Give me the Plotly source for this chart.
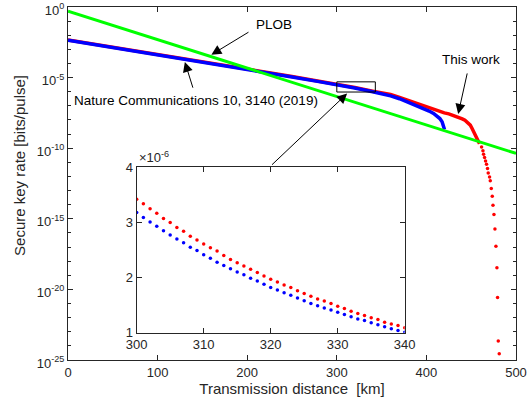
import math
import plotly.graph_objects as go

# ---------------- data ----------------
# PLOB bound (green)
plob_km = [0, 100, 200, 300, 400, 500]
plob_rate = [5.0e-1, 4.9e-3, 4.7e-5, 4.6e-7, 4.4e-9, 4.3e-11]

# Nature Communications 10, 3140 (2019) (blue)
nc_km = [0, 50, 100, 150, 200, 220, 250, 280, 300, 320, 340, 350, 360, 370,
         380, 390, 397, 403, 408, 412, 415, 417.5, 419, 420.2]
nc_rate = [4.4e-3, 1.35e-3, 4.2e-4, 1.29e-4, 4.0e-5, 2.4e-5, 1.12e-5, 5.2e-6,
           3.18e-6, 1.82e-6, 1.0e-6, 7.4e-7, 5.1e-7, 3.2e-7, 1.82e-7, 1.02e-7,
           6.5e-8, 4.3e-8, 2.9e-8, 1.9e-8, 1.26e-8, 7.4e-9, 4.3e-9, 2.1e-9]

# This work (red), dense part
tw_km = [0, 50, 100, 150, 200, 220, 250, 280, 300, 320, 340, 350, 360, 370,
         382, 393, 404, 410, 415, 420, 425, 434, 440, 443, 446, 449, 451, 453,
         455.6, 457.5, 459.3]
tw_rate = [4.7e-3, 1.45e-3, 4.5e-4, 1.38e-4, 4.3e-5, 2.6e-5, 1.2e-5, 5.6e-6,
           3.42e-6, 1.97e-6, 1.09e-6, 8.3e-7, 6.3e-7, 4.0e-7, 2.14e-7, 1.17e-7,
           6.5e-8, 4.8e-8, 3.7e-8, 3.2e-8, 2.7e-8, 1.74e-8, 1.2e-8, 9.5e-9,
           6.8e-9, 4.3e-9, 2.5e-9, 1.32e-9, 5.8e-10, 3.4e-10, 2.1e-10]

# This work (red), sparse tail dots
tail_km = [461.6, 463.1, 463.8, 464.9, 466.0, 467.1, 468.2, 469.0, 470.5,
           471.3, 472.4, 473.5, 474.3, 475.4, 476.5, 477.6, 478.7, 479.4,
           480.2, 481.3]
tail_rate = [1.23e-10, 6.5e-11, 3.8e-11, 2.2e-11, 1.26e-11, 7.4e-12, 3.6e-12,
             1.78e-12, 9.3e-13, 4.9e-13, 1.41e-13, 4.0e-14, 9.3e-15, 2.0e-15,
             1.86e-16, 1.15e-17, 3.4e-19, 2.7e-21, 2.2e-24, 2.8e-25]

# zoom box drawn on the main axes
box_km = [300, 343, 343, 300, 300]
box_rate = [9.5e-7, 9.5e-7, 5.0e-6, 5.0e-6, 9.5e-7]

# inset (values in units of 1e-6)
inset_km = list(range(300, 341))
inset_red = [3.42, 3.34, 3.25, 3.165, 3.07, 3.00, 2.91, 2.84, 2.75, 2.68,
             2.61, 2.54, 2.48, 2.40, 2.33, 2.27, 2.21, 2.15, 2.09, 2.03,
             1.97, 1.92, 1.865, 1.82, 1.76, 1.71, 1.66, 1.61, 1.575, 1.53,
             1.48, 1.44, 1.39, 1.35, 1.31, 1.27, 1.24, 1.19, 1.16, 1.13, 1.09]
inset_blue = [3.18, 3.09, 3.01, 2.93, 2.85, 2.77, 2.70, 2.63, 2.55, 2.49,
              2.415, 2.35, 2.28, 2.22, 2.16, 2.10, 2.05, 1.99, 1.94, 1.88,
              1.82, 1.774, 1.726, 1.678, 1.63, 1.58, 1.53, 1.49, 1.45, 1.41,
              1.37, 1.33, 1.29, 1.25, 1.22, 1.18, 1.145, 1.11, 1.07, 1.04, 1.01]

x_ticks = [0, 100, 200, 300, 400, 500]
y_tick_exp = [0, -5, -10, -15, -20, -25]
inset_x_ticks = [300, 310, 320, 330, 340]
inset_y_ticks = [1, 2, 3, 4]

# ---------------- figure ----------------
FONT = "Liberation Sans, Arial, sans-serif"
AX = "#262626"
RED = "#ff0000"
BLUE = "#0000ff"
GREEN = "#00ff00"

fig = go.Figure()

fig.add_trace(go.Scatter(x=tw_km, y=tw_rate, mode="lines",
                         line=dict(color=RED, width=3.5), xaxis="x", yaxis="y",
                         hoverinfo="skip"))
fig.add_trace(go.Scatter(x=tail_km, y=tail_rate, mode="markers",
                         marker=dict(color=RED, size=3.5), xaxis="x", yaxis="y",
                         hoverinfo="skip"))
fig.add_trace(go.Scatter(x=nc_km, y=nc_rate, mode="lines",
                         line=dict(color=BLUE, width=3.5), xaxis="x", yaxis="y",
                         hoverinfo="skip"))
fig.add_trace(go.Scatter(x=plob_km, y=plob_rate, mode="lines",
                         line=dict(color=GREEN, width=3), xaxis="x", yaxis="y",
                         hoverinfo="skip"))
fig.add_trace(go.Scatter(x=box_km, y=box_rate, mode="lines",
                         line=dict(color="#000000", width=1), xaxis="x", yaxis="y",
                         hoverinfo="skip"))

fig.add_trace(go.Scatter(x=inset_km, y=inset_red, mode="markers",
                         marker=dict(color=RED, size=3.5), xaxis="x2", yaxis="y2",
                         hoverinfo="skip"))
fig.add_trace(go.Scatter(x=inset_km, y=inset_blue, mode="markers",
                         marker=dict(color=BLUE, size=3.5), xaxis="x2", yaxis="y2",
                         hoverinfo="skip"))

ix0, ix1 = 0.1533, 0.7516
iy0, iy1 = 0.0773, 0.5459

axis_common = dict(showline=True, linecolor=AX, linewidth=1, mirror="ticks",
                   ticks="inside", ticklen=5, tickcolor=AX, tickwidth=1,
                   showgrid=False, zeroline=False, automargin=False,
                   ticklabeloverflow="allow",
                   tickfont=dict(family=FONT, size=13, color=AX))

fig.update_layout(
    width=528, height=410,
    margin=dict(l=68, r=12, t=7, b=50),
    paper_bgcolor="white", plot_bgcolor="white",
    showlegend=False,
    font=dict(family=FONT, size=13, color=AX),
    xaxis=dict(range=[0, 500], tickvals=x_ticks, domain=[0, 1], anchor="y",
               title=dict(text="Transmission distance  [km]",
                          font=dict(family=FONT, size=15, color=AX), standoff=4),
               **axis_common),
    yaxis=dict(type="log", range=[-25, 0], domain=[0, 1], anchor="x",
               tickvals=[10.0 ** e for e in y_tick_exp],
               ticktext=["10<sup>%d</sup>" % e for e in y_tick_exp],
               ticklabelshift=3,
               minor=dict(tickvals=[10.0 ** (-k) for k in range(26)],
                          ticks="inside", ticklen=3, tickcolor=AX, tickwidth=1),
               **axis_common),
    xaxis2=dict(range=[300, 340], tickvals=inset_x_ticks, domain=[ix0, ix1],
                anchor="y2", **axis_common),
    yaxis2=dict(range=[1, 4], tickvals=inset_y_ticks, domain=[iy0, iy1],
                anchor="x2", **axis_common),
    shapes=[dict(type="rect", xref="paper", yref="paper", x0=ix0, x1=ix1,
                 y0=iy0, y1=iy1, fillcolor="white", line=dict(width=0),
                 layer="below")],
)

def arrow(tail, head):
    return dict(x=head[0], y=head[1], ax=tail[0], ay=tail[1],
                xref="x", yref="y", axref="x", ayref="y",
                text="", showarrow=True, arrowhead=2, arrowsize=2.0,
                arrowwidth=1, arrowcolor="#000000", standoff=0, startstandoff=0)

def label(text, x, y):
    return dict(x=x, y=y, xref="x", yref="y", text=text, showarrow=False,
                font=dict(family=FONT, size=13.5, color="#000000"),
                xanchor="center", yanchor="middle")

annotations = [
    arrow((203.1, -1.72), (160.0, -3.38)),
    arrow((139.9, -5.82), (130.4, -3.89)),
    arrow((445.9, -4.60), (435.5, -7.57)),
    arrow((226.0, -11.27), (311.5, -6.13)),
    label("PLOB", 230.0, -1.22),
    label("Nature Communications 10, 3140 (2019)", 142.7, -6.60),
    label("This work", 450.0, -3.72),
    dict(x=ix0, y=iy1, xref="paper", yref="paper", text="\u00d710<sup>-6</sup>",
         showarrow=False, xanchor="left", yanchor="bottom",
         font=dict(family=FONT, size=13, color=AX)),
    dict(x=-0.107, y=0.55, xref="paper", yref="paper",
         text="Secure key rate [bits/pulse]", textangle=-90, showarrow=False,
         xanchor="center", yanchor="middle",
         font=dict(family=FONT, size=15, color=AX)),
]
fig.update_layout(annotations=annotations)

fig.write_html("out.html",
               config={"displayModeBar": False},
               post_script="document.body.style.margin='0';"
                           "document.body.style.overflow='hidden';")
